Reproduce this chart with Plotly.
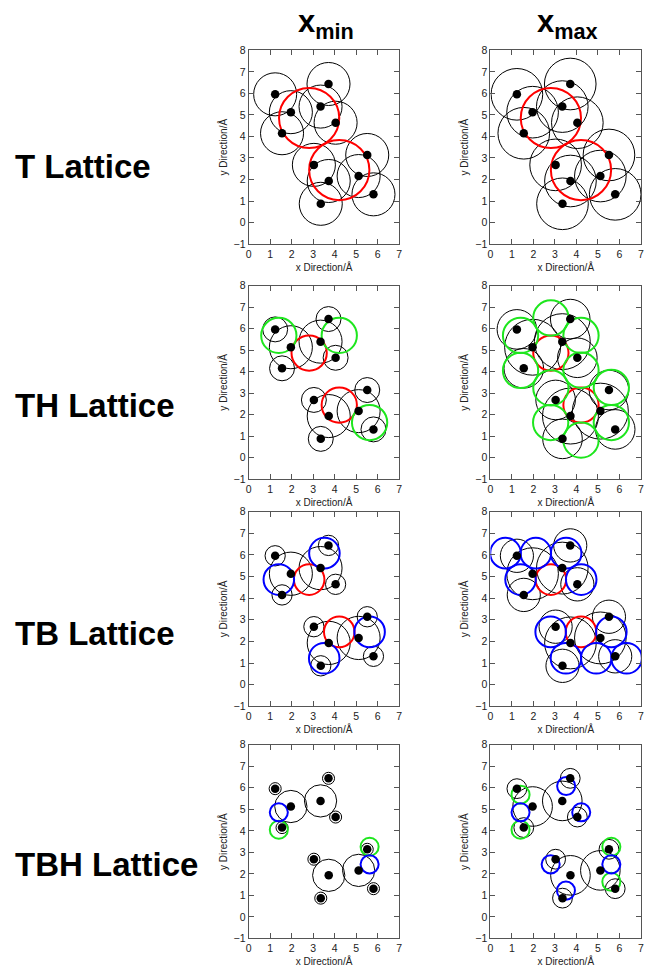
import plotly.graph_objects as go

# ---------------- data ----------------
atom_x = [1.23, 1.96, 1.55, 3.34, 3.71, 4.04, 3.03, 3.72, 3.35, 5.11, 5.51, 5.80]
atom_y = [5.96, 5.13, 4.15, 5.39, 6.44, 4.64, 2.68, 1.93, 0.87, 2.16, 3.14, 1.31]
atom_type = ["H", "C", "H", "C", "H", "H", "H", "C", "H", "C", "H", "H"]

lattices = ["T", "TH", "TB", "TBH"]
columns = ["min", "max"]

# atom circle radii per lattice: [x_min, x_max]
c_radius = {"T": [1.0, 1.2], "TH": [1.0, 1.3], "TB": [1.0, 1.2], "TBH": [0.75, 0.92]}
h_radius = {"T": [1.0, 1.2], "TH": [0.58, 0.92], "TB": [0.47, 0.77], "TBH": [0.28, 0.46]}

# lattice site radius
site_radius = {"T": 1.4, "TH": 0.82, "TB": 0.71, "TBH": 0.42}

red_x = [2.81, 4.21]
red_y = [4.86, 2.44]
red_on = {"T": True, "TH": True, "TB": True, "TBH": False}

green_sites = {
    ("TH", "min"): ([1.40, 4.21, 5.62], [5.68, 5.68, 1.63]),
    ("TH", "max"): ([2.81, 4.21, 4.21, 2.81, 1.40, 1.40, 5.62, 5.62, 4.21, 2.80],
                    [6.49, 5.68, 4.06, 3.24, 4.05, 5.68, 3.26, 1.63, 0.81, 1.63]),
    ("TBH", "min"): ([1.40, 5.62], [4.05, 3.26]),
    ("TBH", "max"): ([1.40, 1.40, 5.62, 5.62], [5.68, 4.05, 3.26, 1.63]),
}
blue_sites = {
    ("TB", "min"): ([1.40, 3.52, 3.51, 5.62], [4.86, 6.08, 1.22, 2.44]),
    ("TB", "max"): ([0.70, 2.11, 3.52, 1.40, 4.22, 2.80, 5.62, 3.51, 4.92, 6.33],
                    [6.08, 6.08, 6.08, 4.86, 4.86, 2.44, 2.44, 1.22, 1.22, 1.22]),
    ("TBH", "min"): ([1.40, 5.62], [4.86, 2.44]),
    ("TBH", "max"): ([1.40, 3.52, 4.22, 2.80, 3.51, 5.62], [4.86, 6.08, 4.86, 2.44, 1.22, 2.44]),
}

row_labels = ["T Lattice", "TH Lattice", "TB Lattice", "TBH Lattice"]
col_titles = ["<b>x<sub>min</sub></b>", "<b>x<sub>max</sub></b>"]
x_ticks = [0, 1, 2, 3, 4, 5, 6, 7]
y_ticks = [-1, 0, 1, 2, 3, 4, 5, 6, 7, 8]

# ---------------- layout geometry ----------------
W, H = 646, 973
col_px = [(248, 400), (492, 644)]
row_px = [(45, 241), (283, 479), (512, 709), (748, 944)]
label_y_px = [163, 404, 635, 869]
title_y_px = 18

FONT = "Liberation Sans, Arial, Helvetica, sans-serif"
RED, GREEN, BLUE = "#ff0000", "#1ee61e", "#0000ff"

fig = go.Figure()
layout = dict(
    width=W, height=H, margin=dict(l=0, r=0, t=0, b=0),
    paper_bgcolor="white", plot_bgcolor="white", showlegend=False,
    font=dict(family=FONT, color="#222"),
)
shapes = []
annotations = []


def add_circles(n, xs, ys, r, color, width):
    for cx, cy in zip(xs, ys):
        shapes.append(dict(type="circle", xref=f"x{n}", yref=f"y{n}",
                           x0=cx - r, x1=cx + r, y0=cy - r, y1=cy + r,
                           line=dict(color=color, width=width), layer="below"))


n = 0
for ri, lat in enumerate(lattices):
    for ci, col in enumerate(columns):
        n += 1
        xd = [col_px[ci][0] / W, col_px[ci][1] / W]
        yd = [1 - row_px[ri][1] / H, 1 - row_px[ri][0] / H]
        axis_common = dict(showline=True, linecolor="#555", linewidth=1, mirror="ticks",
                           ticks="inside", ticklen=5, tickcolor="#555", showgrid=False,
                           zeroline=False, tickfont=dict(size=10.5, family=FONT, color="#222"))
        layout[f"xaxis{n}"] = dict(domain=xd, range=[0, 7], tickvals=x_ticks,
                                   anchor=f"y{n}", fixedrange=True,
                                   title=dict(text="x Direction/Å", font=dict(size=10, family=FONT),
                                              standoff=5),
                                   **axis_common)
        layout[f"yaxis{n}"] = dict(domain=yd, range=[-1, 8], tickvals=y_ticks,
                                   anchor=f"x{n}", fixedrange=True,
                                   title=dict(text="y Direction/Å", font=dict(size=10, family=FONT),
                                              standoff=4),
                                   **axis_common)

        # atom circles
        for ax_, ay_, t in zip(atom_x, atom_y, atom_type):
            r = c_radius[lat][ci] if t == "C" else h_radius[lat][ci]
            add_circles(n, [ax_], [ay_], r, "#000", 1)
        # lattice sites
        if red_on[lat]:
            add_circles(n, red_x, red_y, site_radius[lat], RED, 2)
        if (lat, col) in green_sites:
            gx, gy = green_sites[(lat, col)]
            add_circles(n, gx, gy, site_radius[lat], GREEN, 2)
        if (lat, col) in blue_sites:
            bx, by = blue_sites[(lat, col)]
            add_circles(n, bx, by, site_radius[lat], BLUE, 2)

        fig.add_trace(go.Scatter(x=atom_x, y=atom_y, mode="markers",
                                 marker=dict(color="black", size=8.5),
                                 xaxis=f"x{n}", yaxis=f"y{n}", hoverinfo="skip"))

for ri, lab in enumerate(row_labels):
    annotations.append(dict(text=f"<b>{lab}</b>", xref="paper", yref="paper",
                            x=10 / W, y=1 - label_y_px[ri] / H, xanchor="left", yanchor="middle",
                            showarrow=False, font=dict(size=33, family=FONT, color="black")))
for ci, t in enumerate(col_titles):
    annotations.append(dict(text=t, xref="paper", yref="paper",
                            x=(col_px[ci][0] + col_px[ci][1]) / 2 / W + 2 / W, y=1 - title_y_px / H,
                            xanchor="center", yanchor="middle", showarrow=False,
                            font=dict(size=31, family=FONT, color="black")))

layout["shapes"] = shapes
layout["annotations"] = annotations
fig.update_layout(**layout)
fig.write_html("out.html")
